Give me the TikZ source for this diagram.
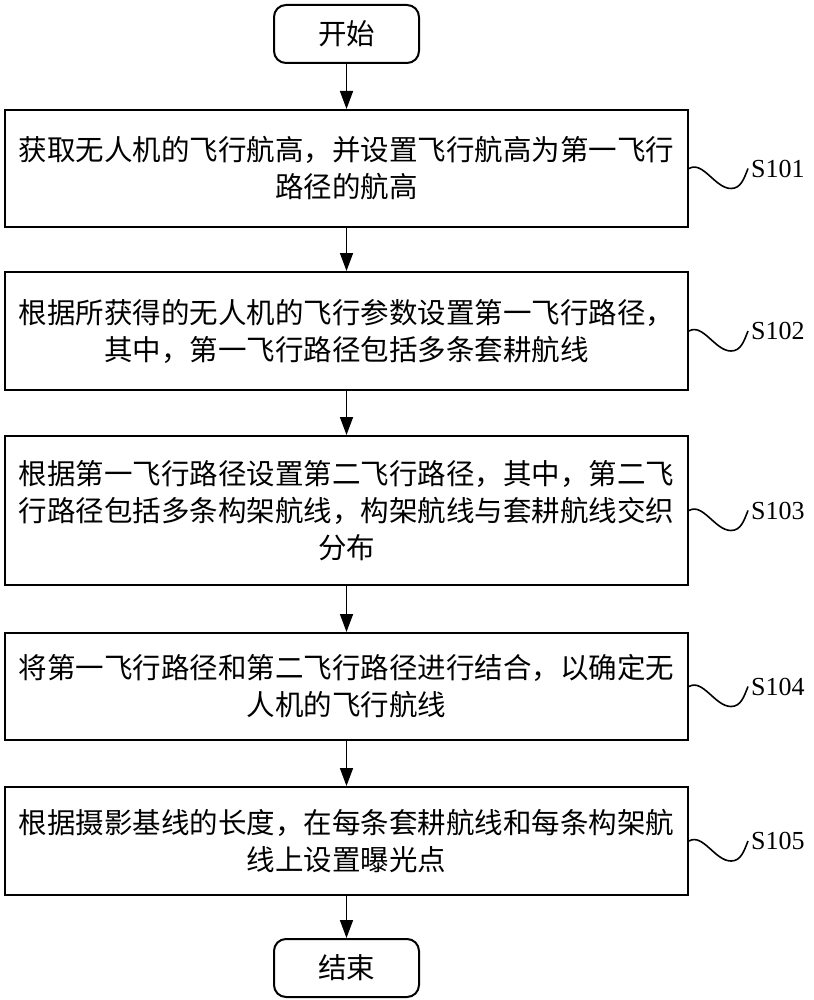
\documentclass[tikz,border=0pt]{standalone}
\usepackage{fontspec}
\setmainfont{Liberation Serif}
\newfontfamily\cjk{Noto Sans CJK SC}
\usetikzlibrary{
    arrows.meta,
    positioning
}

\begin{document}
\begin{tikzpicture}[
    x=1pt, y=-1pt,
    terminal/.style={rectangle, rounded corners=12pt, draw, line width=2pt, minimum width=145pt, minimum height=58pt, font=\cjk\fontsize{28.5}{37}\selectfont},
    stepbox/.style={rectangle, draw, line width=2pt, minimum width=683pt, align=center, font=\cjk\fontsize{28.5}{37}\selectfont},
    steplabel/.style={inner sep=3pt, font=\fontsize{26}{26}\selectfont},
    flow/.style={line width=1.6pt, -{Triangle[length=18pt,width=13pt]}},
    wave/.style={line width=1.6pt}
]
\useasboundingbox (0,0) rectangle (813,1000);

% Start and end
\node[terminal] (start) at (346.5,34) {开始};
\node[terminal] (end) at (346.5,968) {结束};

% Steps
\node[stepbox, minimum height=117pt] (b1) at (346.5,168.5) {获取无人机的飞行航高，并设置飞行航高为第一飞行\\路径的航高};
\node[stepbox, minimum height=118pt] (b2) at (346.5,331) {根据所获得的无人机的飞行参数设置第一飞行路径，\\其中，第一飞行路径包括多条套耕航线};
\node[stepbox, minimum height=149pt] (b3) at (346.5,510.5) {根据第一飞行路径设置第二飞行路径，其中，第二飞\\行路径包括多条构架航线，构架航线与套耕航线交织\\分布};
\node[stepbox, minimum height=107pt] (b4) at (346.5,686.5) {将第一飞行路径和第二飞行路径进行结合，以确定无\\人机的飞行航线};
\node[stepbox, minimum height=108pt] (b5) at (346.5,841) {根据摄影基线的长度，在每条套耕航线和每条构架航\\线上设置曝光点};

% Arrows
\draw[flow] (start) -- (b1);
\foreach \a/\b in {b1/b2, b2/b3, b3/b4, b4/b5} {
    \draw[flow] (\a) -- (\b);
}
\draw[flow] (b5) -- (end);

% Step labels
\foreach \i in {1,...,5} {
    \node[steplabel, right=59pt of b\i] (s\i) {S10\i};
    \draw[wave] (b\i.east) .. controls +(14,-8) and +(-16,0) .. +(42,20)
        .. controls +(10,0) and +(-4,10) .. (s\i.west);
}
\end{tikzpicture}
\end{document}
